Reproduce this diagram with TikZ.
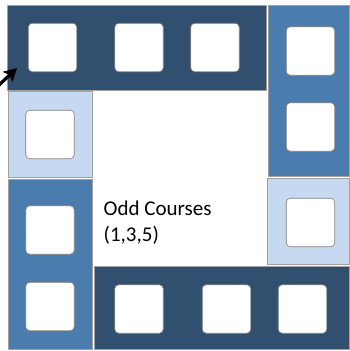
\documentclass[tikz,border=0pt]{standalone}
\usepackage{fontspec}
\setmainfont{Carlito}
\usetikzlibrary{arrows.meta}
\definecolor{darkblk}{HTML}{31506F}
\definecolor{midblk}{HTML}{4A7DAE}
\definecolor{lightblk}{HTML}{C6D9F1}
\definecolor{edgegray}{HTML}{A0A0A0}
\tikzset{
  blk/.style={rectangle, draw=edgegray, line width=0.8pt, anchor=north west, inner sep=0pt, outer sep=0pt},
  darkb/.style={blk, fill=darkblk},
  midb/.style={blk, fill=midblk},
  lightb/.style={blk, fill=lightblk},
  sq/.style={rectangle, rounded corners=4pt, draw=gray, line width=0.6pt, fill=white, minimum size=48.5pt, inner sep=0pt},
  bigarrow/.style={-{Stealth[length=13pt,width=14pt,inset=3pt]}, line width=3.2pt, black},
  lbl/.style={anchor=base west, align=left, inner sep=0pt, font=\fontsize{21}{26}\selectfont}
}
\begin{document}
\begin{tikzpicture}[x=1pt,y=-1pt]
\useasboundingbox (0,0) rectangle (350,351);
% blocks
\node[darkb, minimum width=258.5pt, minimum height=85pt] (T) at (7.5,5) {};
\node[midb, minimum width=81pt, minimum height=171.5pt] (R1) at (268.5,5) {};
\node[lightb, minimum width=81.5pt, minimum height=86pt] (R2) at (267.5,178.5) {};
\node[darkb, minimum width=255.5pt, minimum height=82.5pt] (B) at (94,266.5) {};
\node[lightb, minimum width=84pt, minimum height=86pt] (L1) at (8,91) {};
\node[midb, minimum width=84pt, minimum height=169.5pt] (L2) at (8,179.5) {};
% squares
\node[sq] (t1) at (52.5,47.5) {};
\node[sq] (t2) at (139,47.5) {};
\node[sq] (t3) at (215,47.5) {};
\node[sq] (r1) at (310.5,51) {};
\node[sq] (r2) at (310.5,127) {};
\node[sq] (r3) at (310.5,222.5) {};
\node[sq] (l1) at (50,134.5) {};
\node[sq] (l2) at (50,230) {};
\node[sq] (l3) at (50,306.5) {};
\node[sq] (b1) at (139,309) {};
\node[sq] (b2) at (226.5,309) {};
\node[sq] (b3) at (302.5,309) {};
% label
\node[lbl] (txt) at (103.5,241) {Odd Courses\\(1,3,5)};
% arrow
\coordinate (a0) at (-2,86);
\coordinate (a1) at (17,68);
\draw[bigarrow] (a0) -- (a1);
\end{tikzpicture}
\end{document}
